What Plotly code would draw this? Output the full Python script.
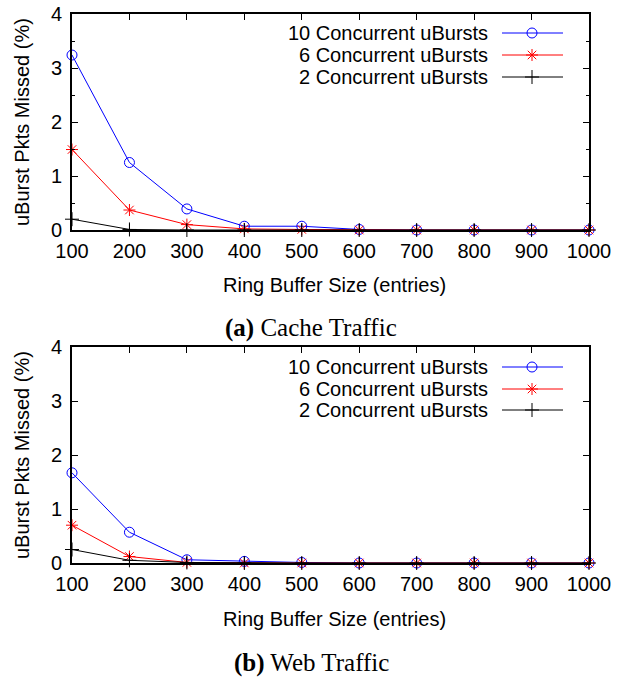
import plotly.graph_objects as go

W, H = 617, 679

buffer_sizes = [100, 200, 300, 400, 500, 600, 700, 800, 900, 1000]
series_names = ["10 Concurrent uBursts", "6 Concurrent uBursts", "2 Concurrent uBursts"]

cache_10 = [3.24, 1.25, 0.39, 0.07, 0.07, 0.01, 0.0, 0.0, 0.0, 0.0]
cache_6 = [1.49, 0.37, 0.10, 0.02, 0.01, 0.0, 0.0, 0.0, 0.0, 0.0]
cache_2 = [0.20, 0.01, 0.0, 0.0, 0.0, 0.0, 0.0, 0.0, 0.0, 0.0]

web_10 = [1.67, 0.57, 0.06, 0.03, 0.01, 0.0, 0.0, 0.0, 0.0, 0.0]
web_6 = [0.70, 0.12, 0.01, 0.0, 0.0, 0.0, 0.0, 0.0, 0.0, 0.0]
web_2 = [0.25, 0.05, 0.01, 0.0, 0.0, 0.0, 0.0, 0.0, 0.0, 0.0]

y_ticks = [0, 1, 2, 3, 4]
captions = ["<b>(a)</b> Cache Traffic", "<b>(b)</b> Web Traffic"]

colors = ["#0000ff", "#ff0000", "#000000"]
symbols = ["circle-open", "asterisk-open", "cross-thin-open"]

SANS = "Liberation Sans, Arial, sans-serif"
SERIF = "Liberation Serif, Times New Roman, serif"

# pixel layout
x_left, x_right = 72, 589
panels = [
    dict(top=14, bottom=230, data=[cache_10, cache_6, cache_2], minor=True,
         caption_y=328, legend_y=[33, 55, 77], xtitle_y=285, ytitle_y=122),
    dict(top=347, bottom=563, data=[web_10, web_6, web_2], minor=False,
         caption_y=663, legend_y=[367, 389, 410], xtitle_y=619, ytitle_y=455),
]

def px_x(p):
    return p / W

def px_y(p):
    return 1 - p / H

fig = go.Figure()

for i, pnl in enumerate(panels):
    ax = "" if i == 0 else str(i + 1)
    for name, vals, col, sym in zip(series_names, pnl["data"], colors, symbols):
        fig.add_trace(go.Scatter(
            x=buffer_sizes, y=vals, mode="lines+markers", name=name,
            line=dict(color=col, width=1),
            marker=dict(symbol=sym, size=10, color=col, line=dict(color=col, width=1)),
            xaxis="x" + ax, yaxis="y" + ax, cliponaxis=False, showlegend=False,
        ))
    xa = dict(
        domain=[px_x(x_left), px_x(x_right)], range=[100, 1000],
        tickvals=buffer_sizes, ticks="inside", ticklen=6, tickwidth=1, tickcolor="black",
        showline=True, linecolor="black", linewidth=2, mirror="allticks",
        showgrid=False, zeroline=False, anchor="y" + ax, automargin=False,
        ticklabelstandoff=2,
        tickfont=dict(family=SANS, size=20, color="black"),
    )
    ya = dict(
        domain=[px_y(pnl["bottom"]), px_y(pnl["top"])], range=[0, 4],
        tickvals=y_ticks, ticks="inside", ticklen=6, tickwidth=1, tickcolor="black",
        showline=True, linecolor="black", linewidth=2, mirror="allticks",
        showgrid=False, zeroline=False, anchor="x" + ax, automargin=False,
        ticklabelstandoff=4,
        tickfont=dict(family=SANS, size=20, color="black"),
    )
    if pnl["minor"]:
        ya["minor"] = dict(dtick=0.5, ticks="inside", ticklen=3, tickcolor="black", tickwidth=1)
    fig.update_layout({"xaxis" + ax: xa, "yaxis" + ax: ya})

    # y title
    fig.add_annotation(text="uBurst Pkts Missed (%)", xref="paper", yref="paper",
                       x=px_x(22), y=px_y(pnl["ytitle_y"]), textangle=-90,
                       showarrow=False, font=dict(family=SANS, size=20, color="black"),
                       xanchor="center", yanchor="middle")
    # x title
    fig.add_annotation(text="Ring Buffer Size (entries)", xref="paper", yref="paper",
                       x=px_x(334), y=px_y(pnl["xtitle_y"]),
                       showarrow=False, font=dict(family=SANS, size=20, color="black"),
                       xanchor="center", yanchor="middle")
    # caption
    fig.add_annotation(text=captions[i], xref="paper", yref="paper",
                       x=px_x(311), y=px_y(pnl["caption_y"]),
                       showarrow=False, font=dict(family=SERIF, size=25, color="black"),
                       xanchor="center", yanchor="middle")
    # manual legend: text right-aligned, sample on right
    for name, col, sym, ly in zip(series_names, colors, symbols, pnl["legend_y"]):
        fig.add_annotation(text=name, xref="paper", yref="paper",
                           x=px_x(490), y=px_y(ly), showarrow=False,
                           font=dict(family=SANS, size=20, color="black"),
                           xanchor="right", yanchor="middle")
        fig.add_trace(go.Scatter(
            x=[502, 532, 563], y=[ly, ly, ly], mode="lines",
            line=dict(color=col, width=1), xaxis="x9", yaxis="y9",
            showlegend=False, hoverinfo="skip"))
        fig.add_trace(go.Scatter(
            x=[532], y=[ly], mode="markers",
            marker=dict(symbol=sym, size=10, color=col, line=dict(color=col, width=1)),
            xaxis="x9", yaxis="y9", showlegend=False, hoverinfo="skip"))

fig.update_layout(
    xaxis9=dict(domain=[0, 1], range=[0, W], visible=False, anchor="y9", fixedrange=True),
    yaxis9=dict(domain=[0, 1], range=[H, 0], visible=False, anchor="x9", fixedrange=True),
    width=W, height=H,
    margin=dict(l=0, r=0, t=0, b=0),
    paper_bgcolor="white", plot_bgcolor="rgba(0,0,0,0)",
    showlegend=False,
)

fig.write_html(
    "out.html",
    config={"displayModeBar": False},
    post_script="document.body.style.margin='0';document.body.style.overflow='hidden';",
)
